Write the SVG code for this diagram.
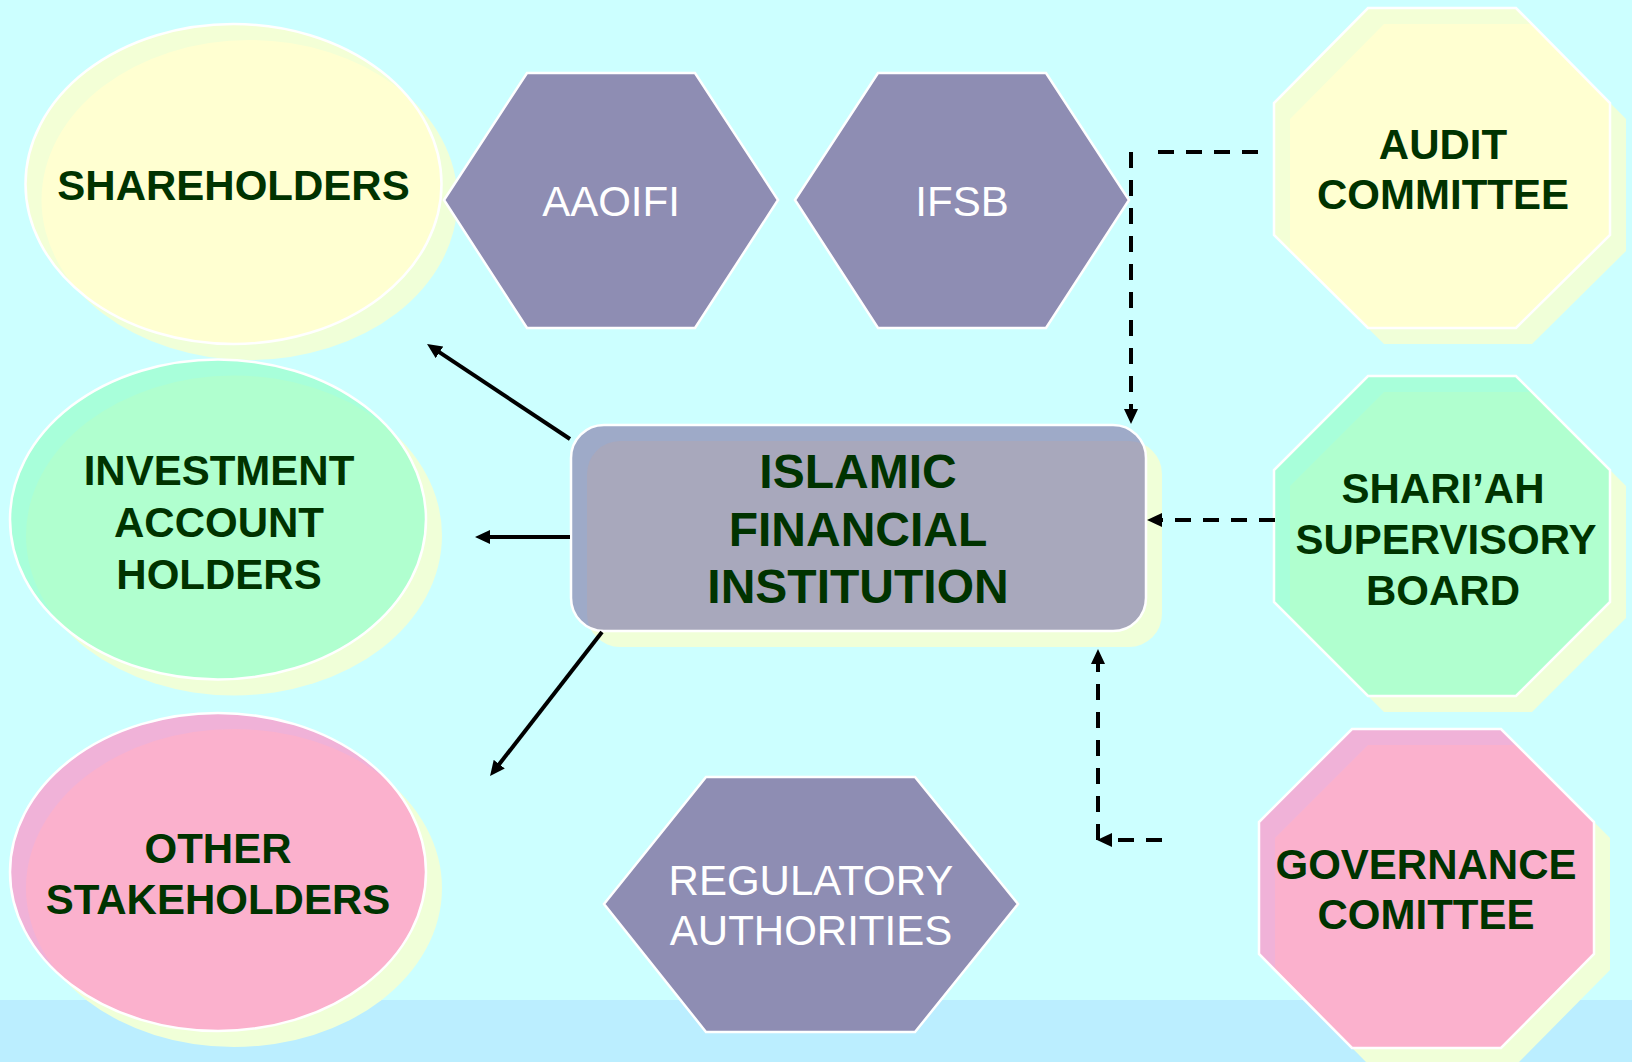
<svg xmlns="http://www.w3.org/2000/svg" width="1632" height="1062" viewBox="0 0 1632 1062">
<style>
.shadow{fill:#f0ffd8}
.edge{fill:none;stroke:#ffffff;stroke-width:2.5}
.hex{fill:#8e8db3;stroke:#ffffff;stroke-width:2.5}
.lbl{font-family:"Liberation Sans",Arial,sans-serif;font-weight:bold;font-size:42px;fill:#003300;text-anchor:middle}
.big{font-size:48px}
.hlbl{font-family:"Liberation Sans",Arial,sans-serif;font-size:42px;fill:#ffffff;text-anchor:middle}
.solid{fill:none;stroke:#000;stroke-width:4}
.dash{fill:none;stroke:#000;stroke-width:4;stroke-dasharray:16 12}
.yo{fill:#f3ffd6}.yi{fill:#ffffd1}
.go{fill:#a8ffda}.gi{fill:#b0ffcf}
.po{fill:#f0b2d8}.pi{fill:#fbb1cd}
</style>
<defs>
<marker id="ah" viewBox="0 0 15 14" refX="4" refY="7" markerWidth="15" markerHeight="14" markerUnits="userSpaceOnUse" orient="auto">
<path d="M0,0 L15,7 L0,14 z" fill="#000"/>
</marker>
<clipPath id="cSh"><ellipse cx="233.5" cy="184" rx="208" ry="160"/></clipPath>
<clipPath id="cInv"><ellipse cx="218" cy="519.5" rx="208" ry="160"/></clipPath>
<clipPath id="cOth"><ellipse cx="218" cy="872" rx="208" ry="159"/></clipPath>
<clipPath id="cIfi"><rect x="571" y="425" width="575" height="206" rx="33"/></clipPath>
<clipPath id="cAud"><polygon points="1368,8 1516,8 1610,103 1610,235 1516,328 1368,328 1274,235 1274,103"/></clipPath>
<clipPath id="cSsb"><polygon points="1368,376 1516,376 1610,470 1610,602 1516,696 1368,696 1274,602 1274,470"/></clipPath>
<clipPath id="cGov"><polygon points="1352,729 1501,729 1594,822 1594,954 1501,1048 1352,1048 1259,954 1259,822"/></clipPath>
</defs>

<rect x="0" y="0" width="1632" height="1062" fill="#ccffff"/>
<rect x="0" y="1000" width="1632" height="62" fill="#bbeeff"/>

<g id="shareholders">
<ellipse class="shadow" cx="249.5" cy="200" rx="208" ry="160"/>
<ellipse class="yo" cx="233.5" cy="184" rx="208" ry="160"/>
<ellipse class="yi" clip-path="url(#cSh)" cx="249.5" cy="200" rx="208" ry="160"/>
<ellipse class="edge" cx="233.5" cy="184" rx="208" ry="160"/>
<text class="lbl" x="233.5" y="200">SHAREHOLDERS</text>
</g>

<g id="investment-account-holders">
<ellipse class="shadow" cx="234" cy="535.5" rx="208" ry="160"/>
<ellipse class="go" cx="218" cy="519.5" rx="208" ry="160"/>
<ellipse class="gi" clip-path="url(#cInv)" cx="234" cy="535.5" rx="208" ry="160"/>
<ellipse class="edge" cx="218" cy="519.5" rx="208" ry="160"/>
<text class="lbl" x="219" y="485">INVESTMENT</text>
<text class="lbl" x="219" y="537">ACCOUNT</text>
<text class="lbl" x="219" y="589">HOLDERS</text>
</g>

<g id="other-stakeholders">
<ellipse class="shadow" cx="234" cy="888" rx="208" ry="159"/>
<ellipse class="po" cx="218" cy="872" rx="208" ry="159"/>
<ellipse class="pi" clip-path="url(#cOth)" cx="234" cy="888" rx="208" ry="159"/>
<ellipse class="edge" cx="218" cy="872" rx="208" ry="159"/>
<text class="lbl" x="218" y="863">OTHER</text>
<text class="lbl" x="218" y="914">STAKEHOLDERS</text>
</g>

<g id="aaoifi">
<polygon class="hex" points="444,200 527,73 695,73 778,200 695,328 527,328"/>
<text class="hlbl" x="611" y="216">AAOIFI</text>
</g>

<g id="ifsb">
<polygon class="hex" points="795,200 878,73 1046,73 1129,200 1046,328 878,328"/>
<text class="hlbl" x="962" y="216">IFSB</text>
</g>

<g id="regulatory-authorities">
<polygon class="hex" points="604,904 706,777 915,777 1018,904 915,1032 706,1032"/>
<text class="hlbl" x="811" y="895">REGULATORY</text>
<text class="hlbl" x="811" y="945">AUTHORITIES</text>
</g>

<g id="islamic-financial-institution">
<rect class="shadow" x="587" y="441" width="575" height="206" rx="33"/>
<rect x="571" y="425" width="575" height="206" rx="33" fill="#9eaac8"/>
<rect clip-path="url(#cIfi)" x="587" y="441" width="575" height="206" rx="33" fill="#a8a8bc"/>
<rect class="edge" x="571" y="425" width="575" height="206" rx="33"/>
<text class="lbl big" x="858" y="488">ISLAMIC</text>
<text class="lbl big" x="858" y="546">FINANCIAL</text>
<text class="lbl big" x="858" y="603">INSTITUTION</text>
</g>

<g id="audit-committee">
<polygon class="shadow" points="1384,24 1532,24 1626,119 1626,251 1532,344 1384,344 1290,251 1290,119"/>
<polygon class="yo" points="1368,8 1516,8 1610,103 1610,235 1516,328 1368,328 1274,235 1274,103"/>
<polygon class="yi" clip-path="url(#cAud)" points="1384,24 1532,24 1626,119 1626,251 1532,344 1384,344 1290,251 1290,119"/>
<polygon class="edge" points="1368,8 1516,8 1610,103 1610,235 1516,328 1368,328 1274,235 1274,103"/>
<text class="lbl" x="1443" y="159">AUDIT</text>
<text class="lbl" x="1443" y="209">COMMITTEE</text>
</g>

<g id="shariah-supervisory-board">
<polygon class="shadow" points="1384,392 1532,392 1626,486 1626,618 1532,712 1384,712 1290,618 1290,486"/>
<polygon class="go" points="1368,376 1516,376 1610,470 1610,602 1516,696 1368,696 1274,602 1274,470"/>
<polygon class="gi" clip-path="url(#cSsb)" points="1384,392 1532,392 1626,486 1626,618 1532,712 1384,712 1290,618 1290,486"/>
<polygon class="edge" points="1368,376 1516,376 1610,470 1610,602 1516,696 1368,696 1274,602 1274,470"/>
<text class="lbl" x="1443" y="503">SHARI’AH</text>
<text class="lbl" x="1446" y="554">SUPERVISORY</text>
<text class="lbl" x="1443" y="605">BOARD</text>
</g>

<g id="governance-comittee">
<polygon class="shadow" points="1368,745 1517,745 1610,838 1610,970 1517,1064 1368,1064 1275,970 1275,838"/>
<polygon class="po" points="1352,729 1501,729 1594,822 1594,954 1501,1048 1352,1048 1259,954 1259,822"/>
<polygon class="pi" clip-path="url(#cGov)" points="1368,745 1517,745 1610,838 1610,970 1517,1064 1368,1064 1275,970 1275,838"/>
<polygon class="edge" points="1352,729 1501,729 1594,822 1594,954 1501,1048 1352,1048 1259,954 1259,822"/>
<text class="lbl" x="1426" y="879">GOVERNANCE</text>
<text class="lbl" x="1426" y="929">COMITTEE</text>
</g>

<g id="connectors">
<path class="solid" d="M570,439 L436.2,350.1" marker-end="url(#ah)"/>
<path class="solid" d="M570,537 L486,537" marker-end="url(#ah)"/>
<path class="solid" d="M602,632 L496.8,767.3" marker-end="url(#ah)"/>
<path class="dash" d="M1258,152 L1158,152"/>
<path class="dash" d="M1131,152 L1131,413" marker-end="url(#ah)"/>
<path class="dash" d="M1275,520 L1158,520" marker-end="url(#ah)"/>
<path class="dash" d="M1162,840 L1108,840" marker-end="url(#ah)"/>
<path class="dash" d="M1098,840 L1098,660" marker-end="url(#ah)"/>
</g>
</svg>
